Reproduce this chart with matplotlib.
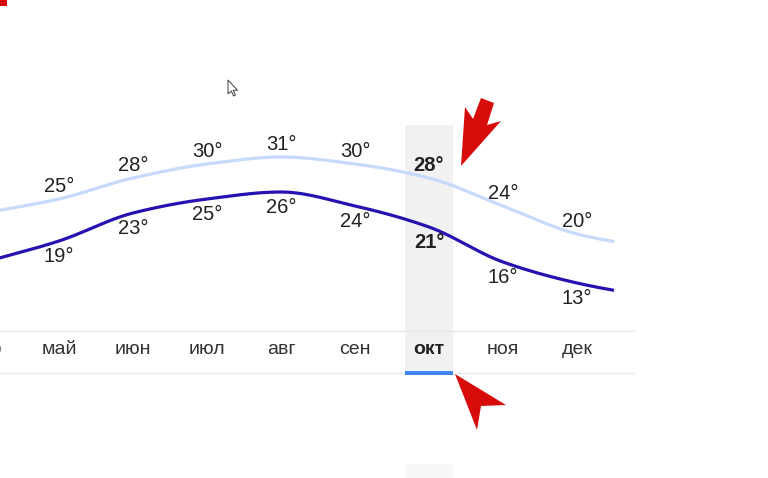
import numpy as np
import matplotlib
matplotlib.use("Agg")
import matplotlib.pyplot as plt
from matplotlib.patches import Polygon, Rectangle
from matplotlib import transforms

plt.rcParams['font.family'] = ['Liberation Sans', 'DejaVu Sans']

# monthly highs / lows, апр and янв only partly on screen
months = ["апр", "май", "июн", "июл", "авг", "сен", "окт", "ноя", "дек", "янв"]
high_temps = [23, 25, 28, 30, 31, 30, 28, 24, 20, 18]
low_temps = [16, 19, 23, 25, 26, 24, 21, 16, 13, 11]
selected = "окт"
last_shown = "дек"

W, H = 768, 478
fig = plt.figure(figsize=(W / 100, H / 100), dpi=100)
ax = fig.add_axes([0, 0, 1, 1])
ax.axis('off')

step = 74  # px per month
ax.set_xlim(1 - 59 / step, 1 + (W - 59) / step)
ax.set_ylim(31 - (H - 157) / 7, 31 + 157 / 7)

# pixel coords with y going down (dpi 100 -> display px)
px = transforms.Affine2D().scale(1, -1).translate(0, H)
xpx = transforms.blended_transform_factory(ax.transData, px)

x = np.arange(len(months))
sel = months.index(selected)
end = months.index(last_shown) + 0.5


def smooth(xs, ys, n=40):
    # monotone cubic through the points
    xs = np.asarray(xs, float)
    ys = np.asarray(ys, float)
    h = np.diff(xs)
    d = np.diff(ys) / h
    m = np.zeros_like(ys)
    m[0], m[-1] = d[0], d[-1]
    for k in range(1, len(ys) - 1):
        if d[k - 1] * d[k] > 0:
            w1 = 2 * h[k] + h[k - 1]
            w2 = h[k] + 2 * h[k - 1]
            m[k] = (w1 + w2) / (w1 / d[k - 1] + w2 / d[k])
    xo, yo = [], []
    for k in range(len(h)):
        t = np.linspace(0, 1, n, endpoint=False)
        h00 = 2 * t**3 - 3 * t**2 + 1
        h10 = t**3 - 2 * t**2 + t
        h01 = -2 * t**3 + 3 * t**2
        h11 = t**3 - t**2
        xo.append(xs[k] + t * h[k])
        yo.append(h00 * ys[k] + h10 * h[k] * m[k] + h01 * ys[k + 1] + h11 * h[k] * m[k + 1])
    xo = np.concatenate(xo + [[xs[-1]]])
    yo = np.concatenate(yo + [[ys[-1]]])
    return xo, yo


# highlighted month column
ax.add_patch(Rectangle((sel - 0.33, 125), 0.66, 248, transform=xpx,
                       facecolor='#f1f1f1', edgecolor='none', zorder=0))
ax.add_patch(Rectangle((sel - 0.33, 464), 0.66, 14, transform=xpx,
                       facecolor='#f8f8f8', edgecolor='none', zorder=0))

# axis strip lines
for yy in (331, 373):
    ax.plot([0, 634], [yy, yy], color='#e8e8e8', lw=1.0, transform=px, zorder=1)
ax.add_patch(Rectangle((sel - 0.33, 371), 0.66, 4, transform=xpx,
                       facecolor='#4285f4', edgecolor='none', zorder=2))

for temps, col in ((high_temps, '#c6dafc'), (low_temps, '#2612b0')):
    sx, sy = smooth(x, temps)
    keep = sx <= end
    ax.plot(sx[keep], sy[keep], color=col, lw=2.3, solid_capstyle='butt', zorder=3)

for i, m in enumerate(months):
    if i > months.index(last_shown):
        continue
    w = 'bold' if m == selected else 'normal'
    ax.annotate(f"{high_temps[i]}°", (x[i], high_temps[i]), xytext=(0, 9.3),
                textcoords='offset points', ha='center', va='center',
                fontsize=14.5, color='#222222', fontweight=w, zorder=4)
    ax.annotate(f"{low_temps[i]}°", (x[i], low_temps[i]), xytext=(0, -11),
                textcoords='offset points', ha='center', va='center',
                fontsize=14.5, color='#222222', fontweight=w, zorder=4)
    ax.text(x[i], 349, m, transform=xpx, ha='center', va='center',
            fontsize=14, color='#222222' if m == selected else '#333333',
            fontweight=w, zorder=4)

# red pointer arrows
red = '#d80b0b'
ax.add_patch(Polygon([(461, 166), (465, 107), (473, 119), (481, 98), (494, 103),
                      (487, 125), (501, 121)], closed=True, transform=px,
                     facecolor=red, edgecolor='none', zorder=6))
ax.add_patch(Polygon([(455, 374), (506, 405), (481, 406), (477, 430)], closed=True,
                     transform=px, facecolor=red, edgecolor='none', zorder=6))
ax.add_patch(Rectangle((0, 0), 7, 6, transform=px, facecolor=red,
                       edgecolor='none', zorder=6))

# mouse cursor
cur = np.array([(0, 0), (0, 14), (3.2, 11), (5.6, 16), (7.4, 15.2), (5.2, 10.3), (9.5, 10.3)])
ax.add_patch(Polygon(cur + [228, 80], closed=True, transform=px, facecolor='white',
                     edgecolor='#555555', lw=0.8, zorder=6))

fig.savefig("out.png", dpi=100)
